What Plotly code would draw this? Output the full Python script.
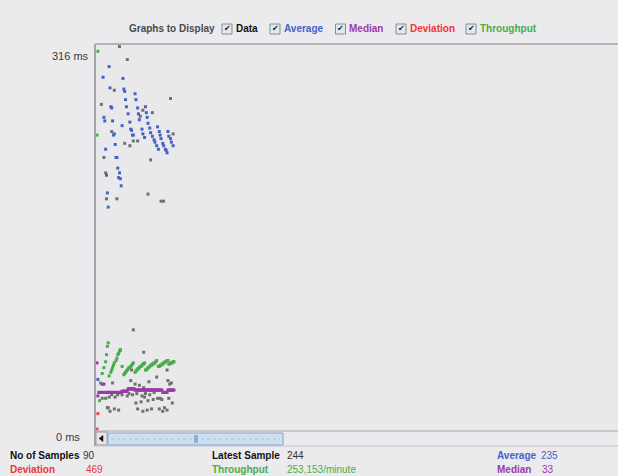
import plotly.graph_objects as go

# ---------------- data (sample number, milliseconds) ----------------
data_samples = [27, 36, 21, 86, 6, 54, 65, 51, 18, 89, 43, 48, 33, 39, 9, 63, 11, 60, 12, 24, 75, 78,
                43, 28, 55, 41, 82, 19, 40, 45, 50, 55, 61, 83, 85, 70, 87,
                7, 11, 15, 18, 22, 25, 30, 36, 38, 42, 47, 53, 57, 62, 67, 71, 74, 76, 66, 60, 56, 52, 46, 88, 84,
                13, 14, 21, 26, 16, 48, 54, 59, 64, 73, 77, 79, 82]
data_ms = [324, 313, 287, 280, 275, 270, 268, 265, 252, 250, 244, 244, 242, 240, 230, 228, 217, 199, 195, 195, 193, 193,
           84, 67, 65, 50, 50, 39, 41, 38, 37, 35, 40, 41, 38, 44, 39,
           26, 26, 27, 29, 27, 29, 29, 28, 30, 29, 30, 28, 30, 29, 31, 26, 26, 25, 25, 24, 27, 23, 22, 22, 26,
           18, 18, 17, 16, 15, 17, 15, 16, 17, 17, 15, 18, 16]

avg_samples = [15, 8, 31, 16, 32, 33, 45, 34, 46, 17, 18, 35, 48, 57, 37, 49, 58, 9, 10, 19, 39, 50, 59, 60,
               30, 40, 53, 62, 71, 41, 73, 20, 21, 42, 43, 54, 63, 83, 74, 84, 56, 65, 75, 67, 86, 22, 68,
               77, 87, 70, 78, 89, 72, 80, 81, 11, 82, 23, 24, 25, 27, 12, 26, 28, 29, 13, 14, 2]
avg_ms = [307, 298, 297, 289, 288, 286, 284, 279, 279, 273, 272, 273, 272, 273, 267, 267, 268, 264, 261, 261, 260, 262, 264, 259,
          257, 254, 254, 255, 256, 253, 252, 249, 250, 249, 249, 250, 251, 252, 249, 248, 247, 248, 246, 245, 246, 241, 243,
          242, 243, 240, 240, 240, 237, 237, 236, 237, 234, 230, 230, 221, 217, 215, 213, 212, 206, 200, 188, 42]

median_samples = list(range(1, 91))
median_ms = [56, 28, 31, 31, 31, 31, 38, 31, 38, 31,
             31, 31, 31, 31, 31, 31, 31, 31, 31, 31,
             31, 31, 31, 31, 31, 31, 31, 31, 31, 32,
             32, 32, 32, 32, 32, 32, 34, 34, 34, 34,
             34, 34, 34, 34, 33, 33, 33, 33, 33, 33,
             33, 33, 33, 33, 33, 33, 33, 33, 33, 33,
             33, 33, 33, 33, 33, 33, 33, 33, 33, 33,
             33, 33, 33, 33, 33, 33, 31, 31, 31, 31,
             31, 31, 33, 33, 33, 33, 33, 33, 33, 33]

dev_samples = [1, 2]
dev_ms = [0, 13]

thr_samples = [1, 2, 4, 5, 7, 9, 11, 12, 13, 14,
               15, 17, 18, 19, 20, 21, 23, 24, 25, 26, 27, 28, 30,
               32, 33, 34, 35, 36, 37, 38, 39, 40, 41, 42, 43,
               45, 46, 47, 48, 49, 50, 51, 52, 53, 54, 55, 56,
               57, 58, 59, 60, 61, 62, 63, 64, 65, 66, 67, 68, 69, 70,
               72, 73, 74, 75, 76, 77, 78, 79, 80, 81, 82, 83,
               84, 85, 86, 87, 88, 89, 90]
thr_ms = [249, 320, 24, 39, 47, 52, 57, 63, 70, 73,
          45, 48, 50, 52, 54, 56, 58, 60, 63, 64, 66, 67, 53,
          46, 47, 48, 49, 50, 51, 52, 52, 53, 54, 55, 56,
          48, 49, 50, 51, 51, 52, 53, 53, 54, 55, 55, 56,
          50, 50, 51, 52, 52, 53, 54, 54, 55, 55, 56, 56, 57, 58,
          53, 53, 54, 54, 55, 55, 56, 56, 57, 57, 58, 58,
          55, 55, 56, 56, 56, 57, 57]

y_tick_labels = ["316 ms", "0 ms"]
footer = {"No of Samples": "90", "Latest Sample": "244", "Average": "235",
          "Deviation": "469", "Throughput": "253,153/minute", "Median": "33"}
legend_items = ["Data", "Average", "Median", "Deviation", "Throughput"]

# ---------------- style ----------------
W, H = 618, 476
PL, PR, PT, PB = 95, 618, 44, 431
C_DATA, C_AVG, C_MED, C_DEV, C_THR = "#707070", "#4462c8", "#9a3aa8", "#f04848", "#48ae48"
BG = "#ebebee"
FONT = "Liberation Sans, Arial, sans-serif"


def fx(p):
    return (p - PL) / (PR - PL)


def fy(p):
    return (PB - p) / (PB - PT)


fig = go.Figure()
for xs, ys, c in [(data_samples, data_ms, C_DATA), (thr_samples, thr_ms, C_THR),
                  (median_samples, median_ms, C_MED), (avg_samples, avg_ms, C_AVG),
                  (dev_samples, dev_ms, C_DEV)]:
    fig.add_trace(go.Scatter(x=xs, y=ys, mode="markers",
                             marker=dict(symbol="square", size=3, color=c, line=dict(width=0)),
                             hoverinfo="skip", showlegend=False))


# axis scaling: sample 1 at pixel 97, 0.865 px per sample; 0 ms at pixel 429, 1.1804 px per ms
def s_of(p):
    return (p - 97) / 0.865 + 1


def ms_of(p):
    return (429 - p) / 1.1804


fig.update_xaxes(range=[s_of(PL), s_of(PR)], visible=False, showgrid=False, zeroline=False)
fig.update_yaxes(range=[ms_of(PB), ms_of(PT)], visible=False, showgrid=False, zeroline=False)

shapes = []
ann = []


def line(x0, y0, x1, y1, color, w=1, dash=None):
    d = dict(type="line", xref="paper", yref="paper", x0=fx(x0), y0=fy(y0), x1=fx(x1), y1=fy(y1),
             line=dict(color=color, width=w))
    if dash:
        d["line"]["dash"] = dash
    shapes.append(d)


def rect(x0, y0, x1, y1, fill, border, w=1):
    shapes.append(dict(type="rect", xref="paper", yref="paper", x0=fx(x0), y0=fy(y0), x1=fx(x1), y1=fy(y1),
                       fillcolor=fill, line=dict(color=border, width=w), layer="above"))


def text(x, y, t, color, size=10, anchor="left", bold=False):
    ann.append(dict(xref="paper", yref="paper", x=fx(x), y=fy(y), text=("<b>%s</b>" % t) if bold else t,
                    showarrow=False, xanchor=anchor, yanchor="middle",
                    font=dict(family=FONT, size=size, color=color), borderpad=0))


# plot borders
line(PL, PT, PL, 446, "#a6a6aa", 2)
line(PL, PT, PR, PT, "#b4b4b8", 2)
line(PL, PB, PR, PB, "#a6a6aa", 1)
line(PL, 446, PR, 446, "#c4c4c8", 1)

# y-axis labels
text(89.5, 56, y_tick_labels[0], "#3a3a3a", 11, "right")
text(80.5, 437, y_tick_labels[1], "#3a3a3a", 11, "right")

# scrollbar
rect(96, 432, 107, 445, "#e6e6e9", "#9a9a9e")
shapes.append(dict(type="path", xref="paper", yref="paper",
                   path="M %f %f L %f %f L %f %f Z" % (fx(103), fy(435.5), fx(99), fy(438.5), fx(103), fy(441.5)),
                   fillcolor="#111111", line=dict(color="#111111", width=0.5), layer="above"))
rect(108, 433, 283, 445, "#cde0f1", "#86a6c8")
line(111, 439, 280, 439, "#a6c3e0", 1, "dot")
line(195, 435, 195, 443, "#5d83b0", 1)
line(197, 435, 197, 443, "#5d83b0", 1)

# header
text(128, 29, "Graphs to Display", "#4a4a4a", 10, bold=True)
leg_colors = ["#111111", C_AVG, C_MED, "#f03434", C_THR]
box_x = [222, 270, 335.5, 396, 466]
for bx, name, c in zip(box_x, legend_items, leg_colors):
    rect(bx, 24, bx + 10, 34, "#e2e8ef", "#7f8fa0")
    ann.append(dict(xref="paper", yref="paper", x=fx(bx + 5), y=fy(29), text="✔", showarrow=False,
                    xanchor="center", yanchor="middle", font=dict(family="DejaVu Sans", size=8, color="#222222")))
    text(bx + 12.5, 29, name, c, 10, bold=True)

# footer
text(9, 455, "No of Samples", "#111111", 10, bold=True)
text(82, 455, footer["No of Samples"], "#333333", 10)
text(210.5, 455, "Latest Sample", "#111111", 10, bold=True)
text(286, 455, footer["Latest Sample"], "#333333", 10)
text(496, 455, "Average", C_AVG, 10, bold=True)
text(540, 455, footer["Average"], C_AVG, 10)
text(9, 469, "Deviation", "#f03434", 10, bold=True)
text(85, 469, footer["Deviation"], "#f03434", 10)
text(210.5, 469, "Throughput", C_THR, 10, bold=True)
text(286, 469, footer["Throughput"], C_THR, 10)
text(496, 469, "Median", C_MED, 10, bold=True)
text(541, 469, footer["Median"], C_MED, 10)

fig.update_layout(width=W, height=H, autosize=False,
                  margin=dict(l=PL, r=W - PR, t=PT, b=H - PB, pad=0),
                  paper_bgcolor=BG, plot_bgcolor="#e9e9ec",
                  shapes=shapes, annotations=ann, showlegend=False)

fig.write_html("out.html", config={"displayModeBar": False},
               post_script="document.body.style.margin='0px';document.body.style.overflow='hidden';"
                           "document.body.style.background='#ebebee';")
